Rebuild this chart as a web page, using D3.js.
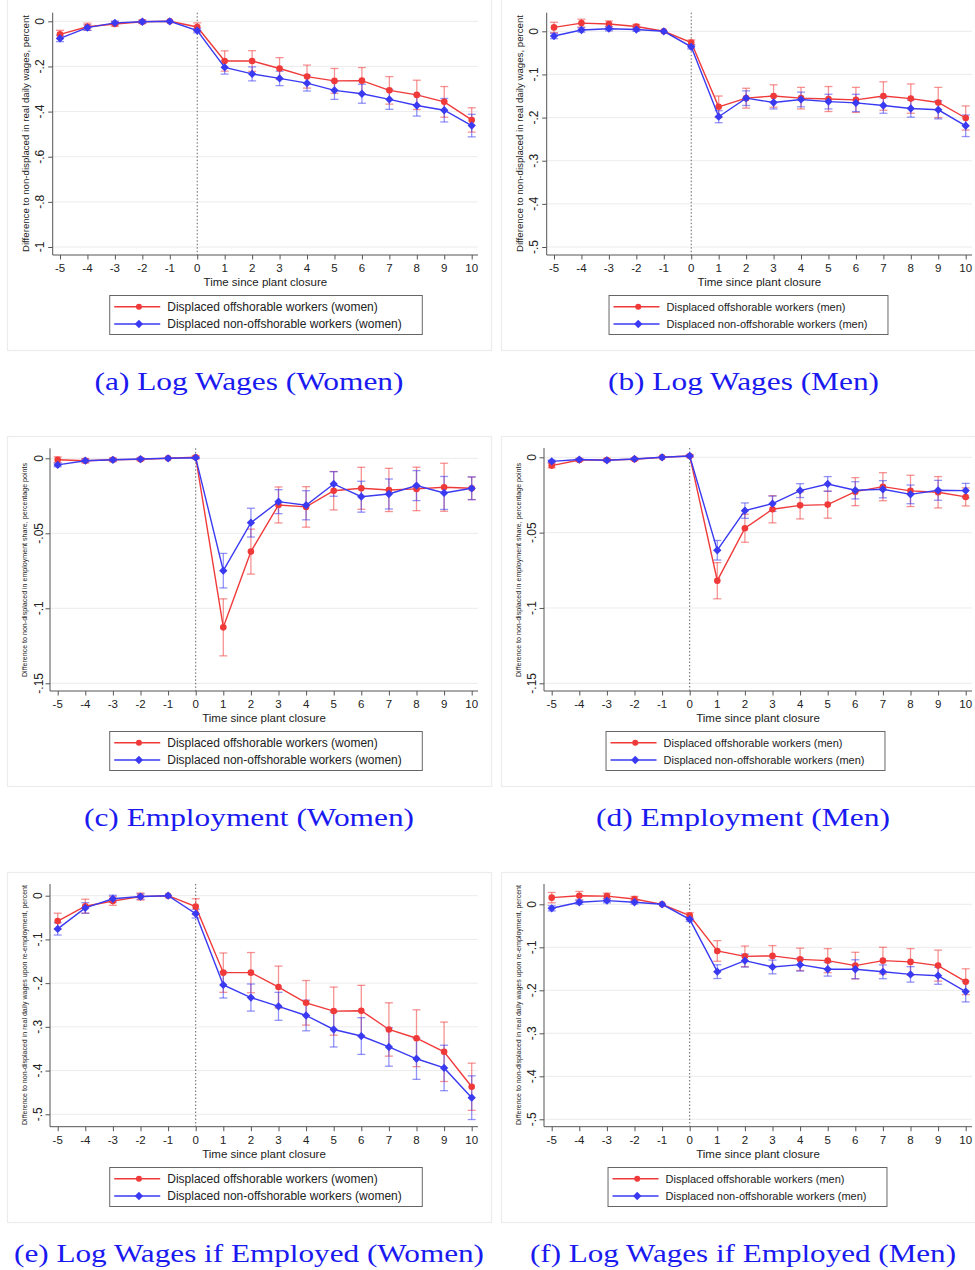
<!DOCTYPE html>
<html>
<head>
<meta charset="utf-8">
<script src="https://cdn.jsdelivr.net/npm/d3@7"></script>
<style>
  html, body { margin: 0; padding: 0; background: #fff; }
  svg { display: block; }
  text { font-family: "Liberation Sans", Arial, sans-serif; }
</style>
</head>
<body>
<svg id="fig" width="975" height="1270"></svg>
<script>
// Event-time grid (years relative to plant closure)
const years = [-5, -4, -3, -2, -1, 0, 1, 2, 3, 4, 5, 6, 7, 8, 9, 10];

// (a)/(e) log wages, women: estimates and 95% CI half-widths
const wageWomenOff    = [-0.058, -0.024, -0.012, -0.002, 0, -0.025, -0.176, -0.176, -0.209, -0.245, -0.264, -0.263, -0.306, -0.326, -0.357, -0.437];
const wageWomenOffCI  = [0.018, 0.016, 0.010, 0.008, 0, 0.018, 0.045, 0.046, 0.048, 0.051, 0.055, 0.058, 0.061, 0.065, 0.068, 0.054];
const wageWomenNon    = [-0.076, -0.028, -0.007, -0.002, 0, -0.041, -0.204, -0.233, -0.253, -0.274, -0.306, -0.321, -0.346, -0.373, -0.394, -0.462];
const wageWomenNonCI  = [0.014, 0.012, 0.008, 0.006, 0, 0.010, 0.030, 0.031, 0.032, 0.035, 0.040, 0.042, 0.044, 0.047, 0.052, 0.050];

// (b) log wages, men
const wageMenOff      = [0.009, 0.019, 0.017, 0.011, 0, -0.026, -0.175, -0.155, -0.150, -0.155, -0.157, -0.159, -0.150, -0.156, -0.165, -0.201];
const wageMenOffCI    = [0.012, 0.009, 0.007, 0.005, 0, 0.006, 0.025, 0.023, 0.026, 0.025, 0.029, 0.029, 0.033, 0.034, 0.035, 0.028];
const wageMenNon      = [-0.011, 0.003, 0.006, 0.004, 0, -0.036, -0.198, -0.155, -0.165, -0.158, -0.163, -0.166, -0.172, -0.179, -0.182, -0.219];
const wageMenNonCI    = [0.006, 0.005, 0.005, 0.004, 0, 0.005, 0.014, 0.017, 0.015, 0.017, 0.017, 0.020, 0.018, 0.020, 0.021, 0.025];

// (c) employment, women
const empWomenOff     = [-0.001, -0.0016, -0.001, -0.0007, 0, 0.0007, -0.1127, -0.0622, -0.0311, -0.0324, -0.0216, -0.0200, -0.0211, -0.0204, -0.0193, -0.0200];
const empWomenOffCI   = [0.002, 0.0015, 0.0012, 0.001, 0, 0.001, 0.019, 0.015, 0.012, 0.0135, 0.0128, 0.014, 0.0144, 0.0145, 0.016, 0.0075];
const empWomenNon     = [-0.0044, -0.0016, -0.001, -0.0005, 0, 0.0004, -0.0749, -0.0429, -0.0289, -0.0313, -0.0171, -0.0256, -0.0238, -0.0182, -0.0231, -0.0200];
const empWomenNonCI   = [0.0012, 0.001, 0.0008, 0.0006, 0, 0.0006, 0.0115, 0.0096, 0.008, 0.0097, 0.0082, 0.0103, 0.0100, 0.0100, 0.0110, 0.0076];

// (d) employment, men
const empMenOff       = [-0.0055, -0.0018, -0.0018, -0.0013, 0, 0.0009, -0.0819, -0.0471, -0.0345, -0.0319, -0.0314, -0.0228, -0.0195, -0.0223, -0.0232, -0.0263];
const empMenOffCI     = [0.0015, 0.001, 0.001, 0.0008, 0, 0.0008, 0.012, 0.0093, 0.009, 0.009, 0.009, 0.0093, 0.0093, 0.0104, 0.0104, 0.006];
const empMenNon       = [-0.0027, -0.0015, -0.0020, -0.0011, 0, 0.0009, -0.0617, -0.0354, -0.0308, -0.0221, -0.0177, -0.0219, -0.0212, -0.0246, -0.0219, -0.0221];
const empMenNonCI     = [0.0008, 0.0006, 0.0006, 0.0005, 0, 0.0005, 0.0065, 0.0051, 0.0051, 0.0046, 0.0049, 0.0057, 0.0057, 0.0062, 0.0066, 0.0048];

// (f) log wages if employed, men
const reempMenOff     = [0.0155, 0.020, 0.019, 0.0124, 0, -0.0264, -0.1085, -0.121, -0.120, -0.128, -0.131, -0.1426, -0.131, -0.134, -0.1426, -0.180];
const reempMenOffCI   = [0.012, 0.010, 0.007, 0.006, 0, 0.007, 0.024, 0.024, 0.024, 0.026, 0.028, 0.031, 0.031, 0.031, 0.036, 0.030];
const reempMenNon     = [-0.0093, 0.0047, 0.0085, 0.0047, 0, -0.0349, -0.1566, -0.131, -0.1457, -0.1403, -0.151, -0.151, -0.157, -0.163, -0.166, -0.203];
const reempMenNonCI   = [0.006, 0.005, 0.005, 0.004, 0, 0.005, 0.016, 0.015, 0.016, 0.015, 0.016, 0.022, 0.016, 0.018, 0.020, 0.024];

// Axis ticks and labels
const ticksWageWomen  = [0, -0.2, -0.4, -0.6, -0.8, -1];
const labelsWageWomen = ["0", "-.2", "-.4", "-.6", "-.8", "-1"];
const ticksTenth      = [0, -0.1, -0.2, -0.3, -0.4, -0.5];
const labelsTenth     = ["0", "-.1", "-.2", "-.3", "-.4", "-.5"];
const ticksEmp        = [0, -0.05, -0.1, -0.15];
const labelsEmp       = ["0", "-.05", "-.1", "-.15"];

const titleWage   = "Difference to non-displaced in real daily wages, percent";
const titleEmp    = "Difference to non-displaced in employment share, percentage points";
const titleReemp  = "Difference to non-displaced in real daily wages upon re-employment, percent";
const xTitle      = "Time since plant closure";

const legendWomen = ["Displaced offshorable workers (women)", "Displaced non-offshorable workers (women)"];
const legendMen   = ["Displaced offshorable workers (men)", "Displaced non-offshorable workers (men)"];

const captions = [
  "(a) Log Wages (Women)", "(b) Log Wages (Men)",
  "(c) Employment (Women)", "(d) Employment (Men)",
  "(e) Log Wages if Employed (Women)", "(f) Log Wages if Employed (Men)"
];

const RED = "#f03a3a", BLUE = "#3a3af2";

// Layout of each panel: frame, plot box, tick anchors, legend and caption
const panels = [
  { off: wageWomenOff, offCI: wageWomenOffCI, non: wageWomenNon, nonCI: wageWomenNonCI,
    ticks: ticksWageWomen, labels: labelsWageWomen, ytitle: titleWage, legend: legendWomen, caption: captions[0],
    frame: [7, -2, 492, 351], axisX: 52.7, x0: 60, x1: 471.7, right: 478,
    yT: 21.3, yB: 247, top: 12.7, bottom: 255, tickLabelX: 40, ytitleX: 25.5, ytitleSpan: [15, 252], ytitleSize: 9.5,
    legendCx: 265.5, legendTop: 295, legendSize: 12, capCx: 249, capY: 381, capW: 309 },
  { off: wageMenOff, offCI: wageMenOffCI, non: wageMenNon, nonCI: wageMenNonCI,
    ticks: ticksTenth, labels: labelsTenth, ytitle: titleWage, legend: legendMen, caption: captions[1],
    frame: [501, -2, 976, 351], axisX: 546.7, x0: 554, x1: 965.7, right: 972,
    yT: 31.3, yB: 247, top: 12.7, bottom: 255, tickLabelX: 533.5, ytitleX: 520, ytitleSpan: [15, 252], ytitleSize: 9.5,
    legendCx: 748, legendTop: 295, legendSize: 11, capCx: 743.5, capY: 381, capW: 271 },
  { off: empWomenOff, offCI: empWomenOffCI, non: empWomenNon, nonCI: empWomenNonCI,
    ticks: ticksEmp, labels: labelsEmp, ytitle: titleEmp, legend: legendWomen, caption: captions[2],
    frame: [7, 436, 492, 787], axisX: 50, x0: 57.7, x1: 471.7, right: 478,
    yT: 458.3, yB: 683.3, top: 448.3, bottom: 691, tickLabelX: 38.3, ytitleX: 24.5, ytitleSpan: [463, 677], ytitleSize: 7,
    legendCx: 265.5, legendTop: 731, legendSize: 12, capCx: 249, capY: 817, capW: 330 },
  { off: empMenOff, offCI: empMenOffCI, non: empMenNon, nonCI: empMenNonCI,
    ticks: ticksEmp, labels: labelsEmp, ytitle: titleEmp, legend: legendMen, caption: captions[3],
    frame: [501, 436, 976, 787], axisX: 544, x0: 551.7, x1: 965.7, right: 972,
    yT: 457.3, yB: 683.3, top: 448, bottom: 691, tickLabelX: 531.7, ytitleX: 518.5, ytitleSpan: [463, 677], ytitleSize: 7,
    legendCx: 745, legendTop: 731, legendSize: 11, capCx: 743, capY: 817, capW: 294 },
  { off: wageWomenOff, offCI: wageWomenOffCI, non: wageWomenNon, nonCI: wageWomenNonCI,
    ticks: ticksTenth, labels: labelsTenth, ytitle: titleReemp, legend: legendWomen, caption: captions[4],
    frame: [7, 872, 492, 1223], axisX: 50, x0: 57.7, x1: 471.7, right: 478,
    yT: 895.7, yB: 1114.3, top: 884, bottom: 1126.7, tickLabelX: 37.7, ytitleX: 24.5, ytitleSpan: [885, 1125], ytitleSize: 7,
    legendCx: 265.5, legendTop: 1167, legendSize: 12, capCx: 249, capY: 1253, capW: 470 },
  { off: reempMenOff, offCI: reempMenOffCI, non: reempMenNon, nonCI: reempMenNonCI,
    ticks: ticksTenth, labels: labelsTenth, ytitle: titleReemp, legend: legendMen, caption: captions[5],
    frame: [501, 872, 976, 1223], axisX: 544, x0: 551.7, x1: 965.7, right: 972,
    yT: 904.3, yB: 1119.3, top: 884, bottom: 1126.7, tickLabelX: 531.7, ytitleX: 518.5, ytitleSpan: [885, 1125], ytitleSize: 7,
    legendCx: 747, legendTop: 1167, legendSize: 11, capCx: 743, capY: 1253, capW: 426 }
];

const svg = d3.select("#fig");
const diamond = d3.symbol().type(d3.symbolDiamond2).size(44);

panels.forEach(p => {
  const g = svg.append("g");
  const [fx0, fy0, fx1, fy1] = p.frame;

  // graph region frame
  g.append("rect")
    .attr("x", fx0 + 0.5).attr("y", fy0 + 0.5)
    .attr("width", fx1 - fx0 - 1).attr("height", fy1 - fy0 - 1)
    .attr("fill", "#fff").attr("stroke", "#ececec").attr("stroke-width", 1.2);

  const x = d3.scaleLinear().domain([years[0], years[years.length - 1]]).range([p.x0, p.x1]);
  const y = d3.scaleLinear().domain([p.ticks[0], p.ticks[p.ticks.length - 1]]).range([p.yT, p.yB]);

  // horizontal grid
  g.append("g").selectAll("line").data(p.ticks).join("line")
    .attr("x1", p.axisX).attr("x2", p.right)
    .attr("y1", d => y(d)).attr("y2", d => y(d))
    .attr("stroke", "#ececec").attr("stroke-width", 1);

  // y axis
  const yAxis = d3.axisLeft(y).tickValues(p.ticks).tickSize(4.5).tickFormat("");
  const ya = g.append("g").attr("transform", `translate(${p.axisX},0)`).call(yAxis);
  ya.select(".domain").remove();
  ya.selectAll(".tick line").attr("stroke", "#555");
  g.append("line").attr("x1", p.axisX).attr("x2", p.axisX).attr("y1", p.top).attr("y2", p.bottom)
    .attr("stroke", "#555").attr("stroke-width", 1);
  g.append("g").selectAll("text").data(p.ticks).join("text")
    .attr("transform", (d) => `translate(${p.tickLabelX},${y(d)}) rotate(-90)`)
    .attr("text-anchor", "middle").attr("dy", "0.36em")
    .attr("font-size", 12).attr("fill", "#222")
    .text((d, i) => p.labels[i]);

  // x axis
  const xAxis = d3.axisBottom(x).tickValues(years).tickSize(4.5).tickFormat("");
  const xa = g.append("g").attr("transform", `translate(0,${p.bottom})`).call(xAxis);
  xa.select(".domain").remove();
  xa.selectAll(".tick line").attr("stroke", "#555");
  g.append("line").attr("x1", p.axisX).attr("x2", p.right).attr("y1", p.bottom).attr("y2", p.bottom)
    .attr("stroke", "#555").attr("stroke-width", 1);
  g.append("g").selectAll("text").data(years).join("text")
    .attr("x", d => x(d)).attr("y", p.bottom + 17)
    .attr("text-anchor", "middle").attr("font-size", 11.5).attr("fill", "#222")
    .text(d => String(d));

  // axis titles
  g.append("text")
    .attr("x", (p.axisX + p.right) / 2).attr("y", p.bottom + 31)
    .attr("text-anchor", "middle").attr("font-size", 11.5).attr("fill", "#222")
    .text(xTitle);
  const span = p.ytitleSpan;
  g.append("text")
    .attr("transform", `translate(${p.ytitleX},${(span[0] + span[1]) / 2}) rotate(-90)`)
    .attr("text-anchor", "middle").attr("dy", "0.35em")
    .attr("font-size", p.ytitleSize).attr("fill", "#222")
    .attr("textLength", span[1] - span[0]).attr("lengthAdjust", "spacingAndGlyphs")
    .text(p.ytitle);

  // closure marker at t = 0
  g.append("line").attr("x1", x(0)).attr("x2", x(0)).attr("y1", p.top).attr("y2", p.bottom)
    .attr("stroke", "#666").attr("stroke-width", 1).attr("stroke-dasharray", "1.5,2");

  // series: confidence caps, connecting line, markers
  const series = [
    { est: p.off, ci: p.offCI, color: RED, shape: "circle" },
    { est: p.non, ci: p.nonCI, color: BLUE, shape: "diamond" }
  ];
  series.forEach(s => {
    const pts = years.map((t, i) => ({ t, v: s.est[i], h: s.ci[i] }));
    const bars = g.append("g").attr("stroke", s.color).attr("stroke-opacity", 0.55).attr("stroke-width", 1.3);
    pts.filter(d => d.h > 0).forEach(d => {
      const cx = x(d.t), ylo = y(d.v - d.h), yhi = y(d.v + d.h);
      bars.append("line").attr("x1", cx).attr("x2", cx).attr("y1", yhi).attr("y2", ylo);
      bars.append("line").attr("x1", cx - 4).attr("x2", cx + 4).attr("y1", yhi).attr("y2", yhi);
      bars.append("line").attr("x1", cx - 4).attr("x2", cx + 4).attr("y1", ylo).attr("y2", ylo);
    });
  });
  series.forEach(s => {
    const pts = years.map((t, i) => ({ t, v: s.est[i] }));
    g.append("path").datum(pts)
      .attr("fill", "none").attr("stroke", s.color).attr("stroke-width", 1.4)
      .attr("d", d3.line().x(d => x(d.t)).y(d => y(d.v)));
    if (s.shape === "circle") {
      g.append("g").selectAll("circle").data(pts).join("circle")
        .attr("cx", d => x(d.t)).attr("cy", d => y(d.v)).attr("r", 3.3).attr("fill", s.color);
    } else {
      g.append("g").selectAll("path").data(pts).join("path")
        .attr("transform", d => `translate(${x(d.t)},${y(d.v)})`)
        .attr("d", diamond).attr("fill", s.color);
    }
  });

  // legend
  const lg = g.append("g");
  const labels = lg.selectAll("text").data(p.legend).join("text")
    .attr("font-size", p.legendSize).attr("fill", "#222").text(d => d);
  const maxW = d3.max(labels.nodes(), n => n.getComputedTextLength());
  const boxW = 58 + maxW + 20;
  const bx = p.legendCx - boxW / 2, by = p.legendTop;
  lg.insert("rect", "text")
    .attr("x", bx + 0.5).attr("y", by + 0.5).attr("width", boxW).attr("height", 39)
    .attr("fill", "#fff").attr("stroke", "#666").attr("stroke-width", 1);
  labels.attr("x", bx + 58).attr("y", (d, i) => by + 16 + i * 17.3);
  [RED, BLUE].forEach((c, i) => {
    const ly = by + 11.7 + i * 17.3;
    lg.append("line").attr("x1", bx + 5).attr("x2", bx + 51).attr("y1", ly).attr("y2", ly)
      .attr("stroke", c).attr("stroke-width", 1.4);
    if (i === 0) {
      lg.append("circle").attr("cx", bx + 29.7).attr("cy", ly).attr("r", 3).attr("fill", c);
    } else {
      lg.append("path").attr("transform", `translate(${bx + 29.7},${ly})`).attr("d", diamond).attr("fill", c);
    }
  });

  // caption
  svg.append("text")
    .attr("x", p.capCx).attr("y", p.capY + 8.5)
    .attr("text-anchor", "middle")
    .style("font-family", "'Liberation Serif', 'DejaVu Serif', serif")
    .attr("font-size", 25).attr("fill", "#1a1af0")
    .attr("textLength", p.capW).attr("lengthAdjust", "spacingAndGlyphs")
    .text(p.caption);
});
</script>
</body>
</html>
